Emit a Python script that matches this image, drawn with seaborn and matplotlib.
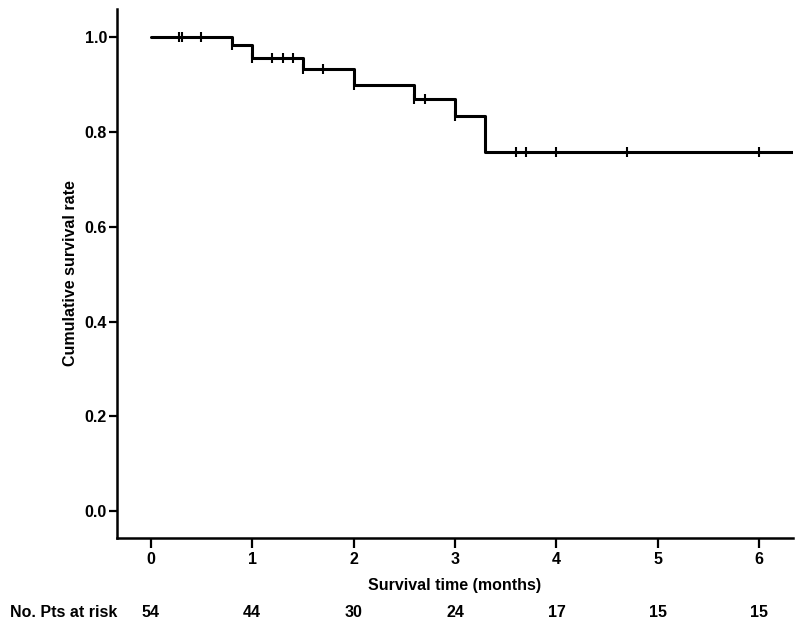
import numpy as np
import pandas as pd
import matplotlib
matplotlib.use("Agg")
import matplotlib.pyplot as plt
import seaborn as sns

# Kaplan-Meier step data
event_times = [0.0, 0.8, 1.0, 1.5, 2.0, 2.6, 3.0, 3.3]
surv_values = [1.0, 0.982, 0.956, 0.931, 0.898, 0.868, 0.832, 0.758]
end_time = 6.33
# censored observations (tick marks)
censor_times = [0.28, 0.31, 0.5, 0.8, 1.0, 1.2, 1.3, 1.4, 1.5, 1.7, 2.0,
                2.6, 2.7, 3.0, 3.6, 3.7, 4.0, 4.7, 6.0]
# number at risk row
risk_times = [0, 1, 2, 3, 4, 5, 6]
risk_counts = [54, 44, 30, 24, 17, 15, 15]

sns.set_style("ticks")
plt.rcParams['font.family'] = ['Liberation Sans', 'DejaVu Sans']
plt.rcParams['font.weight'] = 'bold'
plt.rcParams['text.color'] = 'black'
plt.rcParams['axes.labelcolor'] = 'black'
plt.rcParams['xtick.color'] = 'black'
plt.rcParams['ytick.color'] = 'black'

FS = 11.5

steps = pd.DataFrame({'time': event_times + [end_time],
                      'surv': surv_values + [surv_values[-1]]})

def surv_at(t):
    idx = np.searchsorted(event_times, t, side='right') - 1
    return surv_values[idx]

cens = pd.DataFrame({'time': censor_times,
                     'surv': [surv_at(t) for t in censor_times]})

fig = plt.figure(figsize=(8, 6.26), dpi=100)
ax = fig.add_axes([0.146, 0.1405, 0.845, 0.845])

sns.lineplot(data=steps, x='time', y='surv', drawstyle='steps-post',
             color='black', linewidth=2.2, ax=ax, estimator=None, sort=False)
sns.scatterplot(data=cens, x='time', y='surv', marker='|', s=45,
                color='black', linewidth=1.5, ax=ax, zorder=3)

ax.set_xlim(-0.335, 6.33)
ax.set_ylim(-0.056, 1.058)
ax.set_xticks(risk_times)
ax.set_yticks([0.0, 0.2, 0.4, 0.6, 0.8, 1.0])
ax.set_yticklabels(['0.0', '0.2', '0.4', '0.6', '0.8', '1.0'])

for side in ['top', 'right']:
    ax.spines[side].set_visible(False)
for side in ['left', 'bottom']:
    ax.spines[side].set_linewidth(1.8)
    ax.spines[side].set_color('black')

ax.tick_params(axis='x', direction='out', length=7, width=1.6,
               labelsize=FS, pad=3)
ax.tick_params(axis='y', direction='out', length=6, width=1.6,
               labelsize=FS, pad=1)
for lab in ax.get_xticklabels() + ax.get_yticklabels():
    lab.set_fontweight('bold')

ax.set_xlabel('Survival time (months)', fontsize=FS, fontweight='bold', labelpad=8)
ax.set_ylabel('Cumulative survival rate', fontsize=FS, fontweight='bold', labelpad=5)

# number at risk table below the axis
ytxt = 0.021
fig.text(0.0125, ytxt, 'No. Pts at risk', fontsize=FS, fontweight='bold',
         ha='left', va='center')
for t, n in zip(risk_times, risk_counts):
    xf = fig.transFigure.inverted().transform(ax.transData.transform((t, 0)))[0]
    fig.text(xf, ytxt, str(n), fontsize=FS, fontweight='bold',
             ha='center', va='center')

fig.savefig('out.png', dpi=100)
